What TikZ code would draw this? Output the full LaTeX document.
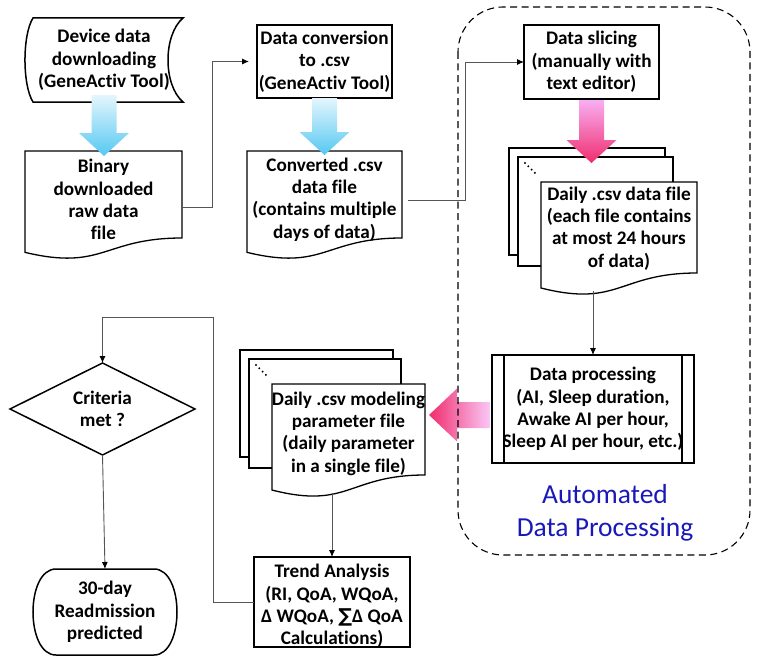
\documentclass[tikz,border=0pt]{standalone}
\usepackage{fontspec}
\setmainfont[Ligatures=NoCommon]{Carlito}
\newfontfamily\symfont{DejaVu Sans}
\usetikzlibrary{arrows.meta,calc,shapes.geometric}
\pgfdeclarelayer{background}
\pgfsetlayers{background,main}
\definecolor{connc}{RGB}{85,85,85}
\definecolor{autoblue}{RGB}{25,25,185}
\definecolor{bluelight}{RGB}{228,246,253}
\definecolor{bluemain}{RGB}{85,200,242}
\definecolor{pinklight}{RGB}{248,175,242}
\definecolor{pinkmid}{RGB}{242,110,215}
\definecolor{pinkhot}{RGB}{240,45,110}
% document outline: node, height of its rectangular part
\newcommand\docout[2]{%
  \draw[docline] (#1.north west) -- (#1.north east) -- (#1.south east)
    .. controls (#1.south) and ($(#1.south)+(0,0.381*#2)$) ..
    ($(#1.south west)+(0,0.165*#2)$) -- cycle;}
% page stack behind a document node
\newcommand\docstack[1]{%
  \draw[docline] ($(#1.north west)+(-32,-34)$) rectangle ($(#1.north east)+(-32,73)$);
  \draw[docline] ($(#1.north west)+(-23,-25)$) rectangle ($(#1.north east)+(-24,84)$);}
\newcommand\docdots[1]{%
  \foreach \i in {0,...,3}
    \fill ($(#1.north west)+(-16+3.3*\i,-19+3.3*\i)$) circle (1.1pt);}
% fat shaded arrow pointing down: from point, to point, top offset, tip offset, shading
\newcommand\fatdown[5]{%
  \shade[#5] let \p1=(#1), \p2=(#2) in
    (\x1-12.5pt,\y1+#3) -- (\x1+12.5pt,\y1+#3) -- (\x1+12.5pt,\y2-#4+23pt)
    -- (\x1+25pt,\y2-#4+23pt) -- (\x1,\y2-#4) -- (\x1-25pt,\y2-#4+23pt)
    -- (\x1-12.5pt,\y2-#4+23pt) -- cycle;}
\begin{document}
\begin{tikzpicture}[x=1pt,y=-1pt,
  lbl/.style={font=\bfseries\fontsize{19.2}{22.3}\selectfont, align=center, inner sep=0pt, outer sep=0pt},
  boxn/.style={lbl, draw, line width=1.6pt},
  plain/.style={lbl},
  docline/.style={line width=1.3pt, fill=white},
  shapeline/.style={line width=1.5pt},
  conn/.style={draw=connc, line width=0.9pt},
  arr/.style={conn, -{Latex[length=7pt,width=6pt,color=black]}},
  blueshade/.style={top color=bluelight, bottom color=bluemain},
  pinkshade/.style={top color=pinklight, middle color=pinkmid, bottom color=pinkhot},
]
\useasboundingbox (0,0) rectangle (760,669);

% ---- nodes ----
\node[plain, minimum width=158pt, minimum height=84pt] (dev) at (104,60)
  {Device data\\downloading\\(GeneActiv Tool)};
\node[plain, minimum width=157pt, minimum height=87pt] (bin) at (103.5,194.5) {};
\node[plain] (bint) at ($(bin)+(0,5)$) {Binary\\downloaded\\raw data\\file};
\node[boxn, minimum width=135pt, minimum height=73pt] (conv) at (324.5,61.5)
  {Data conversion\\to .csv\\(GeneActiv Tool)};
\node[plain, minimum width=155pt, minimum height=87pt] (csv) at (324.5,194.5) {};
\node[plain] (csvt) at ($(csv)+(0,5)$) {Converted .csv\\data file\\(contains multiple\\days of data)};
\node[boxn, minimum width=135pt, minimum height=74pt] (slice) at (591.5,62)
  {Data slicing\\(manually with\\text editor)};
\node[plain, minimum width=156pt, minimum height=91pt] (daily) at (619,227.5) {};
\node[plain] (dailyt) at ($(daily)+(0,1)$) {Daily .csv data file\\(each file contains\\at most 24 hours\\of data)};
\node[boxn, minimum width=202pt, minimum height=108pt] (proc) at (593,409)
  {Data processing\\(AI, Sleep duration,\\Awake AI per hour,\\Sleep AI per hour, etc.)};
\node[plain, minimum width=153pt, minimum height=91pt] (model) at (348.5,429.5) {};
\node[plain] (modelt) at ($(model)+(0,4)$) {Daily .csv modeling\\parameter file\\(daily parameter\\in a single file)};
\node[boxn, minimum width=156pt, minimum height=90pt] (trend) at (332,602) {};
\node[plain] (trendt) at ($(trend)+(0,4)$) {Trend Analysis\\(RI, QoA, WQoA,\\Δ WQoA, {\symfont ∑}Δ QoA\\Calculations)};
\node[plain, minimum width=185pt, minimum height=92pt] (crit) at (102.5,409)
  {Criteria\\met ?};
\node[plain, minimum width=144pt, minimum height=86pt] (pred) at (105,612)
  {30-day\\Readmission\\predicted};
\node[font=\fontsize{27.5}{33}\selectfont, text=autoblue, align=center, inner sep=0pt] (auto) at (605,513)
  {Automated\\Data Processing};

% ---- outlines ----
\begin{pgfonlayer}{background}
  \docout{bin}{87}
  \docout{csv}{87}
  \docstack{daily}
  \docout{daily}{91}
  \docstack{model}
  \docout{model}{91}
\end{pgfonlayer}
\docdots{daily}
\docdots{model}

\draw[shapeline] ($(dev.north west)+(8,0)$) -- (dev.north east)
  .. controls ($(dev.north east)+(-20,17)$) and ($(dev.south east)+(-20,-17)$) .. (dev.south east)
  -- ($(dev.south west)+(8,0)$)
  .. controls ($(dev.south west)+(-2.7,-17)$) and ($(dev.north west)+(-2.7,17)$) .. cycle;

\draw[line width=1.6pt] ([xshift=12pt]proc.north west) -- ([xshift=12pt]proc.south west);
\draw[line width=1.6pt] ([xshift=-12pt]proc.north east) -- ([xshift=-12pt]proc.south east);

\draw[shapeline] (crit.north) -- (crit.east) -- (crit.south) -- (crit.west) -- cycle;

\draw[shapeline] ($(pred.north west)+(23,0)$) -- ($(pred.north east)+(-23,0)$)
  .. controls ($(pred.north east)+(7.67,0)$) and ($(pred.south east)+(7.67,0)$) .. ($(pred.south east)+(-23,0)$)
  -- ($(pred.south west)+(23,0)$)
  .. controls ($(pred.south west)+(-7.67,0)$) and ($(pred.north west)+(-7.67,0)$) .. cycle;

% ---- connectors ----
\draw[arr, shorten >=8pt] ([yshift=-12.5pt]bin.east) -- ++(30,0) |- (conv.west);
\draw[arr, shorten <=6pt] ([yshift=-5.5pt]csv.east) -- ++(63,0) |- (slice.west);
\coordinate (dailyb) at ($(daily.south)+(0,18)$);
\draw[arr] (proc.north |- dailyb) -- (proc.north);
\coordinate (modelb) at ($(model.south)+(0,18)$);
\draw[arr] (trend.north |- modelb) -- (trend.north);
\coordinate (loop) at (213,317);
\draw[arr] (trend.west) -| (loop) -| (crit.north);
\draw[arr] (crit.south) -- (pred.north);

% ---- fat arrows ----
\fatdown{dev.south}{bin.north}{7pt}{5pt}{blueshade}
\fatdown{conv.south}{csv.north}{0pt}{4pt}{blueshade}
\coordinate (dailytop) at ($(daily.north)+(0,-34)$);
\fatdown{slice.south}{dailytop}{-1pt}{15pt}{pinkshade}
\shade[left color=pinkhot, middle color=pinkmid, right color=pinklight!70!white]
  let \p1=(proc.west), \p2=(model.east) in
  (\x1-2pt,\y1+7pt) -- (\x2+32pt,\y1+7pt) -- (\x2+32pt,\y1+20.5pt) -- (\x2+4pt,\y1-6pt)
  -- (\x2+32pt,\y1-32.5pt) -- (\x2+32pt,\y1-19pt) -- (\x1-2pt,\y1-19pt) -- cycle;

% ---- automated frame ----
\draw[line width=1.1pt, dash pattern=on 7pt off 4.5pt, rounded corners=45pt] (458,7) rectangle (750,555);
\end{tikzpicture}
\end{document}
